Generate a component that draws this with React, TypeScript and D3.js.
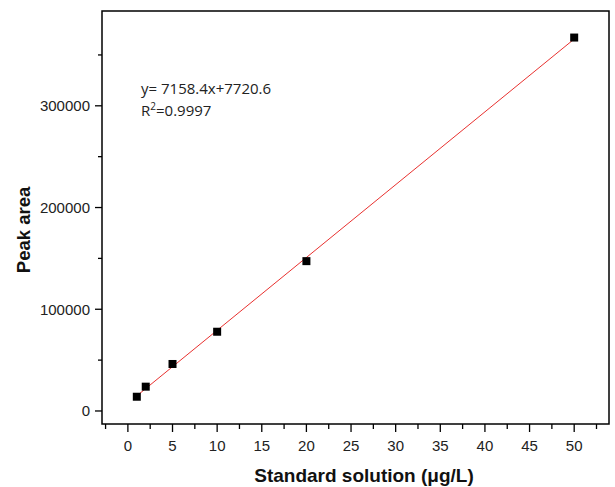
import React, { useRef, useEffect } from 'react';
import * as d3 from 'd3';

// calibration standards
const concentrations = [1, 2, 5, 10, 20, 50];
const peakAreas = [14000, 23900, 46200, 77900, 147300, 367100];

const xTicks = [0, 5, 10, 15, 20, 25, 30, 35, 40, 45, 50];
const yTicks = [0, 100000, 200000, 300000];

const slope = 7158.4;
const intercept = 7720.6;
const fitLabel = 'y= 7158.4x+7720.6';
const r2Value = '=0.9997';

const width = 615;
const height = 487;

const App = () => {
  const svgRef = useRef<SVGSVGElement>(null);

  useEffect(() => {
    const svg = d3.select(svgRef.current);
    svg.selectAll('*').remove();

    const left = 102, right = 609, top = 11, bottom = 424;

    const x = d3.scaleLinear().domain([-2.9, 53.9]).range([left, right]);
    const y = d3.scaleLinear().domain([-12800, 393200]).range([bottom, top]);

    // minor ticks
    const xMinor = d3.range(-2.5, 53, 2.5).filter(v => !xTicks.includes(v));
    const yMinor = d3.range(50000, 393000, 100000);

    const g = svg.append('g');

    g.selectAll('.xminor').data(xMinor).join('line')
      .attr('x1', d => x(d)).attr('x2', d => x(d))
      .attr('y1', bottom).attr('y2', bottom + 5)
      .attr('stroke', '#000').attr('stroke-width', 1.3);

    g.selectAll('.xmajor').data(xTicks).join('line')
      .attr('x1', d => x(d)).attr('x2', d => x(d))
      .attr('y1', bottom).attr('y2', bottom + 8)
      .attr('stroke', '#000').attr('stroke-width', 1.3);

    g.selectAll('.xlab').data(xTicks).join('text')
      .attr('x', d => x(d)).attr('y', bottom + 27)
      .attr('text-anchor', 'middle')
      .attr('font-family', 'Liberation Sans, Arial, sans-serif')
      .attr('font-size', 15).attr('fill', '#222')
      .text(d => d);

    g.selectAll('.yminor').data(yMinor).join('line')
      .attr('x1', left - 4).attr('x2', left)
      .attr('y1', d => y(d)).attr('y2', d => y(d))
      .attr('stroke', '#000').attr('stroke-width', 1.3);

    g.selectAll('.ymajor').data(yTicks).join('line')
      .attr('x1', left - 7).attr('x2', left)
      .attr('y1', d => y(d)).attr('y2', d => y(d))
      .attr('stroke', '#000').attr('stroke-width', 1.3);

    g.selectAll('.ylab').data(yTicks).join('text')
      .attr('x', left - 12).attr('y', d => y(d) + 5.5)
      .attr('text-anchor', 'end')
      .attr('font-family', 'Liberation Sans, Arial, sans-serif')
      .attr('font-size', 15).attr('fill', '#222')
      .text(d => d);

    // frame
    g.append('rect')
      .attr('x', left).attr('y', top)
      .attr('width', right - left).attr('height', bottom - top)
      .attr('fill', 'none').attr('stroke', '#000').attr('stroke-width', 1.5);

    // fitted line
    const xs = d3.extent(concentrations) as [number, number];
    g.append('line')
      .attr('x1', x(xs[0])).attr('y1', y(slope * xs[0] + intercept))
      .attr('x2', x(xs[1])).attr('y2', y(slope * xs[1] + intercept))
      .attr('stroke', '#e8312f').attr('stroke-width', 1);

    const pts = concentrations.map((c, i) => [c, peakAreas[i]]);
    g.selectAll('.pt').data(pts).join('rect')
      .attr('x', d => x(d[0]) - 4).attr('y', d => y(d[1]) - 4)
      .attr('width', 8).attr('height', 8)
      .attr('fill', '#000');

    // equation
    const eq = g.append('g')
      .attr('font-family', 'Open Sans, Noto Sans, sans-serif')
      .attr('font-size', 15).attr('fill', '#222');
    eq.append('text').attr('x', 141).attr('y', 94).text(fitLabel);
    const r = eq.append('text').attr('x', 141).attr('y', 116);
    r.append('tspan').text('R');
    r.append('tspan').attr('font-size', 10).attr('dy', -6).text('2');
    r.append('tspan').attr('dy', 6).text(r2Value);

    // axis titles
    g.append('text')
      .attr('x', 364).attr('y', 482)
      .attr('text-anchor', 'middle')
      .attr('font-family', 'Liberation Sans, Arial, sans-serif')
      .attr('font-weight', 'bold').attr('font-size', 19).attr('fill', '#111')
      .text('Standard solution (μg/L)');

    g.append('text')
      .attr('transform', 'translate(30, 230) rotate(-90)')
      .attr('text-anchor', 'middle')
      .attr('font-family', 'Liberation Sans, Arial, sans-serif')
      .attr('font-weight', 'bold').attr('font-size', 18.5).attr('fill', '#111')
      .text('Peak area');
  }, []);

  return (
    <svg ref={svgRef} width={width} height={height}
      style={{ position: 'absolute', left: 0, top: 0, background: '#fff' }} />
  );
};

export default App;
